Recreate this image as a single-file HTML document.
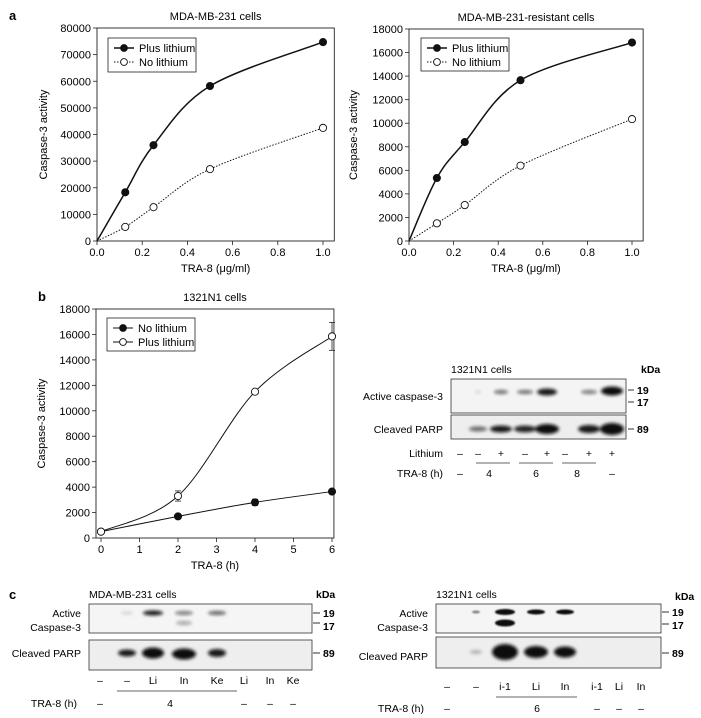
<!DOCTYPE html>
<html><head><meta charset="utf-8">
<style>
html,body{margin:0;padding:0;background:#fff;}
svg{display:block;font-family:"Liberation Sans",Arial,sans-serif;}
</style></head>
<body>
<svg id="fig" width="701" height="718" viewBox="0 0 701 718" xmlns="http://www.w3.org/2000/svg">
<defs>
<filter id="bl" x="-50%" y="-100%" width="200%" height="300%"><feGaussianBlur stdDeviation="1.6"/></filter>
<filter id="bl2" x="-50%" y="-100%" width="200%" height="300%"><feGaussianBlur stdDeviation="0.8"/></filter>
</defs>
<text x="9" y="20" font-size="13" font-weight="bold">a</text>
<text x="38" y="301" font-size="13" font-weight="bold">b</text>
<text x="9" y="599" font-size="13" font-weight="bold">c</text>
<g id="charts"></g>

<!-- Blot b -->
<g font-size="10.5">
<text x="451" y="373">1321N1 cells</text>
<text x="641" y="373" font-weight="bold">kDa</text>
<rect x="451" y="379" width="175" height="34" fill="#f4f4f4" stroke="#333" stroke-width="0.8"/>
<rect x="451" y="415" width="175" height="24" fill="#eeeeee" stroke="#333" stroke-width="0.8"/>
<g filter="url(#bl)" fill="#111">
<ellipse cx="478" cy="392" rx="3" ry="1.5" opacity="0.15"/>
<ellipse cx="501" cy="392" rx="7" ry="2" opacity="0.6"/>
<ellipse cx="525" cy="392" rx="8" ry="2" opacity="0.6"/>
<ellipse cx="547" cy="392" rx="10" ry="3.5" opacity="0.95"/>
<ellipse cx="589" cy="392" rx="8" ry="2" opacity="0.55"/>
<ellipse cx="612" cy="391" rx="11" ry="4.5" opacity="1"/>
<ellipse cx="478" cy="429" rx="9" ry="2.5" opacity="0.6"/>
<ellipse cx="501" cy="429" rx="11" ry="3.5" opacity="0.95"/>
<ellipse cx="525" cy="429" rx="11" ry="3.5" opacity="0.9"/>
<ellipse cx="547" cy="429" rx="12" ry="5" opacity="1"/>
<ellipse cx="589" cy="429" rx="11" ry="4" opacity="0.95"/>
<ellipse cx="612" cy="429" rx="12" ry="6" opacity="1"/>
</g>
<line x1="628" y1="390" x2="634" y2="390" stroke="#333"/><text x="637" y="394" font-weight="bold">19</text>
<line x1="628" y1="402" x2="634" y2="402" stroke="#333"/><text x="637" y="406" font-weight="bold">17</text>
<line x1="628" y1="429" x2="634" y2="429" stroke="#333"/><text x="637" y="433" font-weight="bold">89</text>
<text x="443" y="400" text-anchor="end">Active caspase-3</text>
<text x="443" y="433" text-anchor="end">Cleaved PARP</text>
<text x="443" y="457" text-anchor="end">Lithium</text>
<g text-anchor="middle">
<text x="460" y="457">–</text><text x="478" y="457">–</text><text x="501" y="457">+</text><text x="525" y="457">–</text><text x="547" y="457">+</text><text x="565" y="457">–</text><text x="589" y="457">+</text><text x="612" y="457">+</text>
<text x="460" y="477">–</text><text x="489" y="477">4</text><text x="536" y="477">6</text><text x="577" y="477">8</text><text x="612" y="477">–</text>
</g>
<line x1="476" y1="463" x2="510" y2="463" stroke="#333" stroke-width="0.7"/>
<line x1="519" y1="463" x2="553" y2="463" stroke="#333" stroke-width="0.7"/>
<line x1="562" y1="463" x2="596" y2="463" stroke="#333" stroke-width="0.7"/>
<text x="443" y="477" text-anchor="end">TRA-8 (h)</text>
</g>

<!-- Blot c left -->
<g font-size="10.5">
<text x="89" y="598">MDA-MB-231 cells</text>
<text x="316" y="598" font-weight="bold">kDa</text>
<rect x="89" y="604" width="223" height="29" fill="#f5f5f5" stroke="#333" stroke-width="0.8"/>
<rect x="89" y="640" width="223" height="30" fill="#eeeeee" stroke="#333" stroke-width="0.8"/>
<g filter="url(#bl)" fill="#111">
<ellipse cx="127" cy="613" rx="6" ry="1.5" opacity="0.15"/>
<ellipse cx="153" cy="613" rx="10" ry="2.5" opacity="0.95"/>
<ellipse cx="184" cy="613" rx="9" ry="2" opacity="0.55"/>
<ellipse cx="184" cy="623" rx="8" ry="2" opacity="0.35"/>
<ellipse cx="217" cy="613" rx="9" ry="2" opacity="0.65"/>
<ellipse cx="127" cy="653" rx="9" ry="3.5" opacity="0.95"/>
<ellipse cx="153" cy="653" rx="11" ry="5.5" opacity="1"/>
<ellipse cx="184" cy="654" rx="12" ry="5.5" opacity="1"/>
<ellipse cx="217" cy="653" rx="9" ry="4" opacity="0.95"/>
</g>
<line x1="313" y1="613" x2="320" y2="613" stroke="#333"/><text x="323" y="617" font-weight="bold">19</text>
<line x1="313" y1="623" x2="320" y2="623" stroke="#333"/><text x="323" y="630" font-weight="bold">17</text>
<line x1="313" y1="653" x2="320" y2="653" stroke="#333"/><text x="323" y="657" font-weight="bold">89</text>
<text x="81" y="617" text-anchor="end">Active</text>
<text x="81" y="631" text-anchor="end">Caspase-3</text>
<text x="81" y="657" text-anchor="end">Cleaved PARP</text>
<g text-anchor="middle">
<text x="100" y="684">–</text><text x="127" y="684">–</text><text x="153" y="684">Li</text><text x="184" y="684">In</text><text x="217" y="684">Ke</text><text x="244" y="684">Li</text><text x="270" y="684">In</text><text x="293" y="684">Ke</text>
<text x="100" y="707">–</text><text x="170" y="707">4</text><text x="244" y="707">–</text><text x="270" y="707">–</text><text x="293" y="707">–</text>
</g>
<line x1="117" y1="691" x2="237" y2="691" stroke="#333" stroke-width="0.7"/>
<text x="77" y="707" text-anchor="end">TRA-8 (h)</text>
</g>

<!-- Blot c right -->
<g font-size="10.5">
<text x="436" y="598">1321N1 cells</text>
<text x="675" y="600" font-weight="bold">kDa</text>
<rect x="436" y="604" width="225" height="29" fill="#f5f5f5" stroke="#333" stroke-width="0.8"/>
<rect x="436" y="637" width="225" height="31" fill="#eeeeee" stroke="#333" stroke-width="0.8"/>
<g filter="url(#bl2)" fill="#111">
<ellipse cx="476" cy="612" rx="4" ry="1.5" opacity="0.5"/>
<ellipse cx="505" cy="612" rx="10" ry="3" opacity="1"/>
<ellipse cx="505" cy="623" rx="10" ry="3.5" opacity="1"/>
<ellipse cx="536" cy="612" rx="9" ry="2.5" opacity="1"/>
<ellipse cx="565" cy="612" rx="9" ry="2.5" opacity="1"/>
</g>
<g filter="url(#bl)" fill="#111">
<ellipse cx="476" cy="652" rx="6" ry="2" opacity="0.25"/>
<ellipse cx="505" cy="652" rx="13" ry="8" opacity="1"/>
<ellipse cx="536" cy="652" rx="12" ry="6" opacity="1"/>
<ellipse cx="565" cy="652" rx="11" ry="5.5" opacity="1"/>
</g>
<line x1="662" y1="612" x2="669" y2="612" stroke="#333"/><text x="672" y="616" font-weight="bold">19</text>
<line x1="662" y1="624" x2="669" y2="624" stroke="#333"/><text x="672" y="629" font-weight="bold">17</text>
<line x1="662" y1="653" x2="669" y2="653" stroke="#333"/><text x="672" y="657" font-weight="bold">89</text>
<text x="428" y="617" text-anchor="end">Active</text>
<text x="428" y="631" text-anchor="end">Caspase-3</text>
<text x="428" y="660" text-anchor="end">Cleaved PARP</text>
<g text-anchor="middle">
<text x="447" y="690">–</text><text x="476" y="690">–</text><text x="505" y="690">i-1</text><text x="536" y="690">Li</text><text x="565" y="690">In</text><text x="597" y="690">i-1</text><text x="619" y="690">Li</text><text x="641" y="690">In</text>
<text x="447" y="712">–</text><text x="537" y="712">6</text><text x="597" y="712">–</text><text x="619" y="712">–</text><text x="641" y="712">–</text>
</g>
<line x1="496" y1="697" x2="577" y2="697" stroke="#333" stroke-width="0.7"/>
<text x="424" y="712" text-anchor="end">TRA-8 (h)</text>
</g>
</svg>
<script>
// Panel a left: MDA-MB-231 cells
const aX = [0, 0.125, 0.25, 0.5, 1.0];
const aLeftPlus = [0, 18300, 36000, 58200, 74700];
const aLeftNo = [0, 5300, 12700, 27000, 42500];
const aLeftYTicks = [0, 10000, 20000, 30000, 40000, 50000, 60000, 70000, 80000];
const aLeftYLabels = ["0", "10000", "20000", "30000", "40000", "50000", "60000", "70000", "80000"];
// Panel a right: resistant cells
const aRightPlus = [0, 5350, 8400, 13650, 16850];
const aRightNo = [0, 1500, 3050, 6400, 10350];
const aRightYTicks = [0, 2000, 4000, 6000, 8000, 10000, 12000, 14000, 16000, 18000];
const aXTicks = [0, 0.2, 0.4, 0.6, 0.8, 1.0];
const aXLabels = ["0.0", "0.2", "0.4", "0.6", "0.8", "1.0"];
// Panel b: 1321N1 cells
const bX = [0, 2, 4, 6];
const bNo = [500, 1700, 2800, 3650];
const bNoErr = [0, 100, 250, 100];
const bPlus = [500, 3300, 11500, 15850];
const bPlusErr = [0, 400, 0, 1100];
const bXTicks = [0, 1, 2, 3, 4, 5, 6];
const bYTicks = [0, 2000, 4000, 6000, 8000, 10000, 12000, 14000, 16000, 18000];

const NS = "http://www.w3.org/2000/svg";
const root = document.getElementById('charts');
function mk(tag, attrs, parent) {
  const e = document.createElementNS(NS, tag);
  for (const k in attrs) e.setAttribute(k, attrs[k]);
  (parent || root).appendChild(e);
  return e;
}
function smooth(pts) {
  let d = "M" + pts[0][0] + "," + pts[0][1];
  for (let i = 0; i < pts.length - 1; i++) {
    const p0 = pts[Math.max(0, i - 1)], p1 = pts[i], p2 = pts[i + 1], p3 = pts[Math.min(pts.length - 1, i + 2)];
    const c1x = p1[0] + (p2[0] - p0[0]) / 6, c1y = p1[1] + (p2[1] - p0[1]) / 6;
    const c2x = p2[0] - (p3[0] - p1[0]) / 6, c2y = p2[1] - (p3[1] - p1[1]) / 6;
    d += " C" + c1x + "," + c1y + " " + c2x + "," + c2y + " " + p2[0] + "," + p2[1];
  }
  return d;
}
function chart(cfg) {
  const g = mk('g', {});
  
  
  const sx = v => cfg.px0 + (v - cfg.x0) / (cfg.x1 - cfg.x0) * (cfg.px1 - cfg.px0);
  const sy = v => cfg.py0 - (v - cfg.y0) / (cfg.y1 - cfg.y0) * (cfg.py0 - cfg.py1);
  const L = sx(cfg.bx0), R = sx(cfg.bx1), T = sy(cfg.y1), B = sy(cfg.y0);
  const box = mk('rect', {x: L, y: T, width: R - L, height: B - T, fill: 'none', stroke: '#222', 'stroke-width': 0.9}, g);
  
  
  const t = mk('text', {x: (L + R) / 2, y: T - 8, 'text-anchor': 'middle', 'font-size': 11}, g);
  t.textContent = cfg.title;
  
  
  cfg.xTicks.forEach((v, i) => {
    mk('line', {x1: sx(v), x2: sx(v), y1: B, y2: B + 4, stroke: '#222', 'stroke-width': 0.8}, g);
    const tx = mk('text', {x: sx(v), y: B + 15, 'text-anchor': 'middle', 'font-size': 11}, g);
    tx.textContent = cfg.xLabels[i];
    
    
  });
  cfg.yTicks.forEach((v, i) => {
    mk('line', {x1: L - 4, x2: L, y1: sy(v), y2: sy(v), stroke: '#222', 'stroke-width': 0.8}, g);
    const ty = mk('text', {x: L - 6, y: sy(v) + 4, 'text-anchor': 'end', 'font-size': 11}, g);
    ty.textContent = cfg.yLabels[i];
    
    
  });
  const xt = mk('text', {x: (L + R) / 2, y: B + 31, 'text-anchor': 'middle', 'font-size': 11}, g);
  xt.textContent = cfg.xTitle;
  
  
  const yt = mk('text', {x: 0, y: 0, 'text-anchor': 'middle', 'font-size': 11, transform: 'translate(' + cfg.yTitleX + ',' + (T + B) / 2 + ') rotate(-90)'}, g);
  yt.textContent = 'Caspase-3 activity';
  
  
  cfg.series.forEach(s => {
    const pts = cfg.xs.map((x, i) => [sx(x), sy(s.values[i])]);
    const p = mk('path', {d: cfg.linear ? 'M' + pts.map(q => q.join(',')).join(' L') : smooth(pts), fill: 'none', stroke: s.stroke || '#111', 'stroke-width': s.width, 'stroke-dasharray': s.dash || 'none'}, g);
    
    
    if (s.err) s.err.forEach((e, i) => {
      if (!e) return;
      const x = sx(cfg.xs[i]), y1 = sy(s.values[i] - e), y2 = sy(s.values[i] + e);
      mk('line', {x1: x, x2: x, y1: y1, y2: y2, stroke: '#222', 'stroke-width': 0.8}, g);
      mk('line', {x1: x - 3, x2: x + 3, y1: y1, y2: y1, stroke: '#222', 'stroke-width': 0.8}, g);
      mk('line', {x1: x - 3, x2: x + 3, y1: y2, y2: y2, stroke: '#222', 'stroke-width': 0.8}, g);
    });
    pts.forEach((q, i) => {
      if (cfg.skipZero && i === 0) return;
      const c = mk('circle', {cx: q[0], cy: q[1], r: 3.6, fill: s.filled ? '#111' : '#fff', stroke: '#111', 'stroke-width': 0.9}, g);
      
      
    });
  });
  const lg = mk('g', {}, g);
  
  
  mk('rect', {x: cfg.legend[0], y: cfg.legend[1], width: cfg.legend[2], height: cfg.legend[3], fill: '#fff', stroke: '#222', 'stroke-width': 0.8}, lg);
  cfg.series.forEach((s, i) => {
    const y = cfg.legend[1] + 10 + i * 14, x = cfg.legend[0] + 6;
    mk('line', {x1: x, x2: x + 20, y1: y, y2: y, stroke: s.stroke || '#111', 'stroke-width': s.width, 'stroke-dasharray': s.dash || 'none'}, lg);
    mk('circle', {cx: x + 10, cy: y, r: 3.4, fill: s.filled ? '#111' : '#fff', stroke: '#111', 'stroke-width': 0.9}, lg);
    const lt = mk('text', {x: x + 25, y: y + 4, 'font-size': 11}, lg);
    lt.textContent = s.label;
    
    
  });
}
chart({name: 'chart-mda-mb-231', title: 'MDA-MB-231 cells', xs: aX, x0: 0, x1: 1, px0: 97, px1: 323, bx0: 0, bx1: 1.05,
  y0: 0, y1: 80000, py0: 241, py1: 28, xTicks: aXTicks, xLabels: aXLabels, yTicks: aLeftYTicks, yLabels: aLeftYLabels,
  xTitle: 'TRA-8 (\u03bcg/ml)', yTitleX: 47, legend: [108, 38, 88, 34], skipZero: true,
  series: [{key: 'plus-lithium', label: 'Plus lithium', values: aLeftPlus, filled: true, width: 1.5},
           {key: 'no-lithium', label: 'No lithium', values: aLeftNo, filled: false, width: 1, dash: '1.5,1.5'}]});
chart({name: 'chart-mda-mb-231-resistant', title: 'MDA-MB-231-resistant cells', xs: aX, x0: 0, x1: 1, px0: 409, px1: 632, bx0: 0, bx1: 1.05,
  y0: 0, y1: 18000, py0: 241, py1: 29, xTicks: aXTicks, xLabels: aXLabels, yTicks: aRightYTicks, yLabels: aRightYTicks.map(String),
  xTitle: 'TRA-8 (\u03bcg/ml)', yTitleX: 357, legend: [421, 38, 88, 33], skipZero: true,
  series: [{key: 'plus-lithium', label: 'Plus lithium', values: aRightPlus, filled: true, width: 1.5},
           {key: 'no-lithium', label: 'No lithium', values: aRightNo, filled: false, width: 1, dash: '1.5,1.5'}]});
chart({name: 'chart-1321n1', title: '1321N1 cells', xs: bX, x0: 0, x1: 6, px0: 101, px1: 332, bx0: -0.13, bx1: 6.05,
  y0: 0, y1: 18000, py0: 538, py1: 309, xTicks: bXTicks, xLabels: bXTicks.map(String), yTicks: bYTicks, yLabels: bYTicks.map(String),
  xTitle: 'TRA-8 (h)', yTitleX: 45, legend: [107, 318, 88, 33], linear: false,
  series: [{key: 'no-lithium', label: 'No lithium', values: bNo, err: bNoErr, filled: true, width: 1},
           {key: 'plus-lithium', label: 'Plus lithium', values: bPlus, err: bPlusErr, filled: false, width: 1}]});
</script>
</body></html>
